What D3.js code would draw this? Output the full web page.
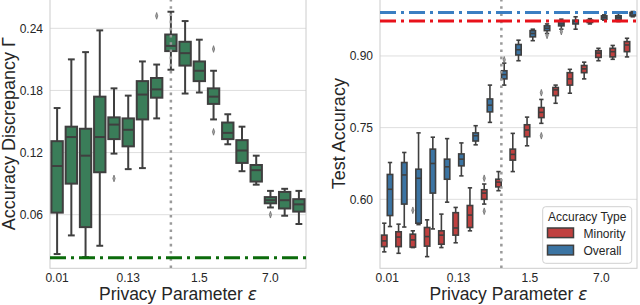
<!DOCTYPE html>
<html>
<head>
<meta charset="utf-8">
<script src="https://cdn.jsdelivr.net/npm/d3@7"></script>
<style>
  html, body { margin: 0; padding: 0; background: #ffffff; }
  svg { display: block; }
  text { font-family: "Liberation Sans", Arial, sans-serif; fill: #262626; }
</style>
</head>
<body>
<svg id="chart" width="640" height="305"></svg>
<script>
// ---------------- data ----------------
const categories = ["0.01","0.02","0.03","0.05","0.08","0.13","0.2","0.3","0.5","1.0","1.5","2.0","3.0","4.0","5.0","7.0","8.0","10.0"];
const tickLabels = ["0.01","0.13","1.5","7.0"];
const markerCategory = "0.5";

// Left panel: accuracy discrepancy (whisker low, Q1, median, Q3, whisker high)
const discWhiskerLow  = [0.022,0.040,0.019,0.030,0.119,0.104,0.105,0.153,0.200,0.177,0.178,0.152,0.128,0.102,0.089,0.067,0.059,0.051];
const discQ1          = [0.062,0.090,0.048,0.101,0.133,0.126,0.152,0.173,0.218,0.204,0.189,0.167,0.133,0.110,0.092,0.071,0.066,0.063];
const discMedian      = [0.107,0.135,0.117,0.135,0.147,0.142,0.176,0.181,0.223,0.216,0.199,0.174,0.139,0.122,0.103,0.074,0.074,0.070];
const discQ3          = [0.131,0.145,0.143,0.174,0.154,0.153,0.189,0.192,0.234,0.227,0.208,0.182,0.149,0.132,0.108,0.077,0.082,0.075];
const discWhiskerHigh = [0.163,0.210,0.217,0.238,0.182,0.175,0.208,0.205,0.256,0.247,0.229,0.199,0.157,0.145,0.117,0.083,0.085,0.083];
const discOutliers    = [["0.08",0.095],["0.3",0.252],["2.0",0.220],["2.0",0.140],["7.0",0.060]];
const discBaseline = 0.0185;
const discTicks = [0.06, 0.12, 0.18, 0.24];

// Right panel: test accuracy, Minority
const minWhiskerLow  = [0.490,0.487,0.499,0.480,0.499,0.509,0.534,0.590,0.618,0.658,0.712,0.759,0.801,0.822,0.852,0.890,0.893,0.898];
const minQ1          = [0.501,0.501,0.500,0.502,0.506,0.525,0.541,0.600,0.626,0.682,0.731,0.771,0.817,0.839,0.865,0.897,0.898,0.909];
const minMedian      = [0.513,0.521,0.515,0.522,0.525,0.540,0.567,0.613,0.636,0.694,0.745,0.782,0.829,0.852,0.873,0.906,0.909,0.923];
const minQ3          = [0.525,0.532,0.527,0.541,0.534,0.572,0.587,0.620,0.642,0.705,0.756,0.792,0.834,0.865,0.880,0.911,0.916,0.930];
const minWhiskerHigh = [0.550,0.548,0.534,0.557,0.569,0.583,0.624,0.632,0.658,0.738,0.772,0.809,0.839,0.872,0.887,0.916,0.922,0.937];
const minOutliers    = [["0.03",0.577],["0.3",0.644],["0.3",0.575],["2.0",0.823],["2.0",0.733]];

// Right panel: test accuracy, Overall
const allWhiskerLow  = [0.543,0.542,0.547,0.538,0.594,0.649,0.714,0.761,0.839,0.890,0.932,0.947,0.956,0.956,0.967,0.975,0.972,0.982];
const allQ1          = [0.566,0.590,0.550,0.613,0.642,0.670,0.722,0.783,0.852,0.902,0.940,0.953,0.963,0.967,0.970,0.977,0.977,0.984];
const allMedian      = [0.621,0.651,0.644,0.675,0.668,0.684,0.733,0.797,0.861,0.913,0.947,0.958,0.967,0.972,0.9725,0.981,0.981,0.988];
const allQ3          = [0.652,0.677,0.663,0.705,0.684,0.695,0.739,0.810,0.869,0.924,0.953,0.963,0.972,0.975,0.975,0.984,0.984,0.991];
const allWhiskerHigh = [0.677,0.698,0.739,0.730,0.727,0.718,0.754,0.839,0.885,0.933,0.956,0.967,0.977,0.982,0.978,0.986,0.989,0.993];
const allOutliers    = [["0.5",0.892],["2.0",0.943],["3.0",0.951]];

const overallBaseline = 0.991;
const minorityBaseline = 0.973;
const accTicks = [0.60, 0.75, 0.90];

const legendTitle = "Accuracy Type";
const seriesNames = ["Minority", "Overall"];

// ---------------- styling ----------------
const EDGE = "#3f3f3f";
const GREEN = "#3a7d59";
const RED = "#c0403f";
const BLUE = "#3b74a3";

const svg = d3.select("#chart");

function buildBoxes(cats, wl, q1, md, q3, wh) {
  return cats.map((c, i) => ({cat: c, wl: wl[i], q1: q1[i], md: md[i], q3: q3[i], wh: wh[i]}));
}

function drawPanel(opts) {
  const g = svg.append("g");
  const x = d3.scaleBand().domain(categories).range([opts.left, opts.right]).padding(0);
  const y = d3.scaleLinear().domain(opts.yDomain).range([opts.bottom, opts.top]);

  // grid
  g.selectAll("line.grid").data(opts.ticks).enter().append("line")
    .attr("x1", opts.left).attr("x2", opts.right)
    .attr("y1", d => y(d)).attr("y2", d => y(d))
    .attr("stroke", "#dedede").attr("stroke-width", 1);

  // frame
  g.append("rect").attr("x", opts.left).attr("y", opts.top)
    .attr("width", opts.right - opts.left).attr("height", opts.bottom - opts.top)
    .attr("fill", "none").attr("stroke", "#cccccc").attr("stroke-width", 1);

  // y axis
  const yAxis = d3.axisLeft(y).tickValues(opts.ticks).tickFormat(d3.format(".2f")).tickSize(0).tickPadding(7);
  const ya = g.append("g").attr("transform", `translate(${opts.left},0)`).call(yAxis);
  ya.select(".domain").remove();
  ya.selectAll("text").style("font-size", "12px").style("font-family", "Liberation Sans, Arial, sans-serif").attr("fill", "#262626");

  // x axis
  const xAxis = d3.axisBottom(x).tickValues(tickLabels).tickSize(0).tickPadding(5);
  const xa = g.append("g").attr("transform", `translate(0,${opts.bottom})`).call(xAxis);
  xa.select(".domain").remove();
  xa.selectAll("text").style("font-size", "12px").style("font-family", "Liberation Sans, Arial, sans-serif").attr("fill", "#262626");

  // labels
  const xl = g.append("text").attr("x", (opts.left + opts.right) / 2).attr("y", 300)
    .attr("text-anchor", "middle").style("font-size", "17.5px");
  xl.append("tspan").text("Privacy Parameter ");
  xl.append("tspan").text("ε").style("font-family", "DejaVu Sans").style("font-style", "italic").style("font-size", "17px");

  g.append("text").attr("transform", `translate(${opts.ylabelX},${(opts.top + opts.bottom) / 2}) rotate(-90)`)
    .attr("text-anchor", "middle").style("font-size", "18px").text(opts.ylabel);

  const plot = g.append("g");

  function drawBoxes(data, color, offset, widthFrac, capFrac, sw, outliers) {
    const bw = x.bandwidth() * widthFrac;
    const cw = bw * capFrac;
    const cx = d => x(d.cat) + x.bandwidth() / 2 + offset * x.bandwidth();
    const bg = plot.append("g");
    const items = bg.selectAll("g.box").data(data).enter().append("g");
    items.append("line").attr("x1", cx).attr("x2", cx).attr("y1", d => y(d.wl)).attr("y2", d => y(d.q1))
      .attr("stroke", EDGE).attr("stroke-width", sw);
    items.append("line").attr("x1", cx).attr("x2", cx).attr("y1", d => y(d.q3)).attr("y2", d => y(d.wh))
      .attr("stroke", EDGE).attr("stroke-width", sw);
    items.append("line").attr("x1", d => cx(d) - cw / 2).attr("x2", d => cx(d) + cw / 2)
      .attr("y1", d => y(d.wl)).attr("y2", d => y(d.wl)).attr("stroke", EDGE).attr("stroke-width", sw);
    items.append("line").attr("x1", d => cx(d) - cw / 2).attr("x2", d => cx(d) + cw / 2)
      .attr("y1", d => y(d.wh)).attr("y2", d => y(d.wh)).attr("stroke", EDGE).attr("stroke-width", sw);
    items.append("rect").attr("x", d => cx(d) - bw / 2).attr("width", bw)
      .attr("y", d => y(d.q3)).attr("height", d => Math.max(0.5, y(d.q1) - y(d.q3)))
      .attr("fill", color).attr("stroke", EDGE).attr("stroke-width", sw);
    items.append("line").attr("x1", d => cx(d) - bw / 2).attr("x2", d => cx(d) + bw / 2)
      .attr("y1", d => y(d.md)).attr("y2", d => y(d.md)).attr("stroke", EDGE).attr("stroke-width", sw);
    const sym = d3.symbol().type(d3.symbolDiamond).size(9);
    bg.selectAll("path.out").data(outliers).enter().append("path")
      .attr("d", sym)
      .attr("transform", d => `translate(${x(d[0]) + x.bandwidth() / 2 + offset * x.bandwidth()},${y(d[1])}) scale(0.7,1.2)`)
      .attr("fill", "#a8a8a8").attr("stroke", "#6a6a6a").attr("stroke-width", 0.8);
  }

  opts.series.forEach(s => drawBoxes(s.data, s.color, s.offset, s.widthFrac, s.capFrac, s.sw, s.outliers));

  // dotted vertical marker
  const mx = x(markerCategory) + x.bandwidth() / 2;
  plot.append("line").attr("x1", mx).attr("x2", mx).attr("y1", opts.top).attr("y2", opts.bottom)
    .attr("stroke", "#9a9a9a").attr("stroke-width", 2.5).attr("stroke-dasharray", "2.6,4.6");

  // dash-dot baselines
  opts.baselines.forEach(b => {
    plot.append("line").attr("x1", opts.left).attr("x2", opts.right)
      .attr("y1", y(b.value)).attr("y2", y(b.value))
      .attr("stroke", b.color).attr("stroke-width", 3).attr("stroke-dasharray", "16,5,3,5");
  });
  return {x, y, g};
}

// Left panel
drawPanel({
  left: 50, right: 306, top: -1, bottom: 268.3,
  yDomain: [0.00824, 0.2683],
  ticks: discTicks,
  ylabel: "Accuracy Discrepancy Γ",
  ylabelX: 15,
  series: [{data: buildBoxes(categories, discWhiskerLow, discQ1, discMedian, discQ3, discWhiskerHigh),
            color: GREEN, offset: 0, widthFrac: 0.8, capFrac: 0.6, sw: 2, outliers: discOutliers}],
  baselines: [{value: discBaseline, color: "#0b6b0b"}]
});

// Right panel
const right = drawPanel({
  left: 380, right: 637, top: -1, bottom: 268.3,
  yDomain: [0.4556, 1.0192],
  ticks: accTicks,
  ylabel: "Test Accuracy",
  ylabelX: 345,
  series: [
    {data: buildBoxes(categories, minWhiskerLow, minQ1, minMedian, minQ3, minWhiskerHigh),
     color: RED, offset: -0.2, widthFrac: 0.38, capFrac: 0.8, sw: 1.6, outliers: minOutliers},
    {data: buildBoxes(categories, allWhiskerLow, allQ1, allMedian, allQ3, allWhiskerHigh),
     color: BLUE, offset: 0.2, widthFrac: 0.38, capFrac: 0.8, sw: 1.6, outliers: allOutliers}
  ],
  baselines: [{value: overallBaseline, color: "#3a7ec2"}, {value: minorityBaseline, color: "#e8121b"}]
});

// Legend
const lg = svg.append("g");
lg.append("rect").attr("x", 542.7).attr("y", 206.7).attr("width", 89).attr("height", 56.6)
  .attr("rx", 3).attr("fill", "white").attr("fill-opacity", 0.85).attr("stroke", "#d0d0d0").attr("stroke-width", 1);
lg.append("text").attr("x", 587.2).attr("y", 221).attr("text-anchor", "middle").style("font-size", "12px").text(legendTitle);
const legendColors = [RED, BLUE];
seriesNames.forEach((name, i) => {
  lg.append("rect").attr("x", 547.5).attr("y", 228 + i * 17.3).attr("width", 26).attr("height", 9.6)
    .attr("fill", legendColors[i]).attr("stroke", EDGE).attr("stroke-width", 1.5);
  lg.append("text").attr("x", 583.5).attr("y", 237.8 + i * 17.3).style("font-size", "12px").text(name);
});
</script>
</body>
</html>
